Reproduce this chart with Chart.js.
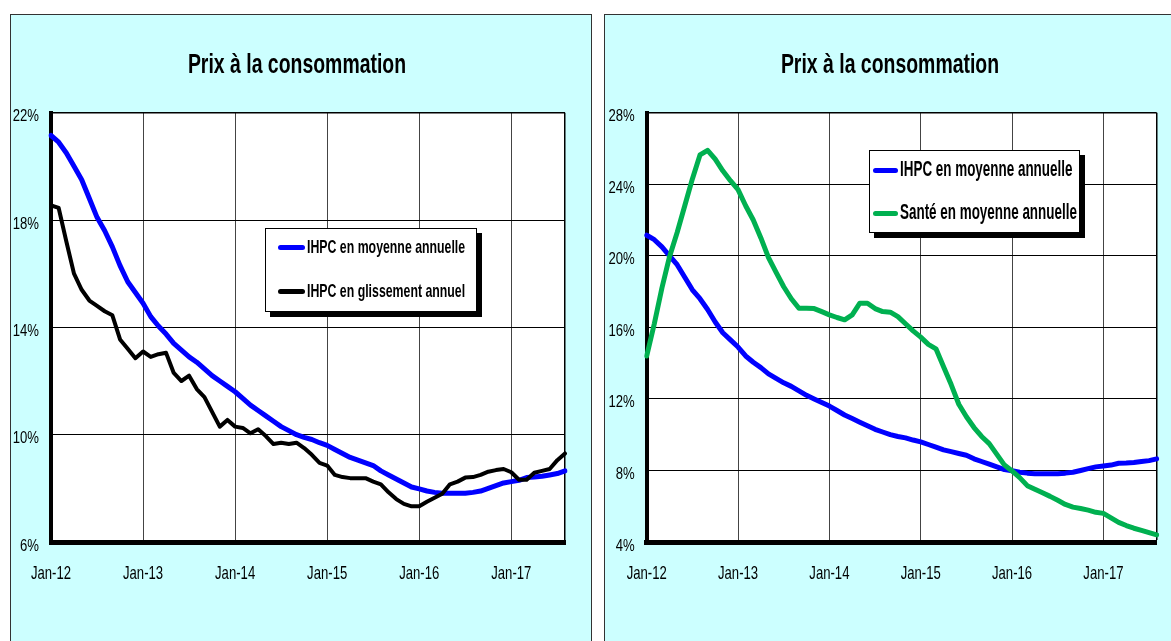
<!DOCTYPE html>
<html>
<head>
<meta charset="utf-8">
<script src="https://cdn.jsdelivr.net/npm/chart.js@4.4.1/dist/chart.umd.min.js"></script>
<style>
  html, body { margin: 0; padding: 0; }
  body { width: 1171px; height: 641px; overflow: hidden; background: #fff; position: relative;
         font-family: "Liberation Sans", Arial, sans-serif; }
  .panel { position: absolute; top: 14px; height: 640px; background: #CCFFFF; border: 1px solid #333; }
  #p1 { left: 10px; width: 580px; }
  #p2 { left: 604px; width: 580px; }
  canvas { position: absolute; left: 0; top: 0; }
  .title { position: absolute; top: 37px; width: 400px; text-align: center; font-weight: bold;
           font-size: 24px; line-height: 24px; color: #000; transform: scale(0.81, 1.16); white-space: nowrap; }
  .legend { position: absolute; box-sizing: border-box; background: #fff; border: 1px solid #000;
            box-shadow: 5px 5px 0 #000; }
  .item { position: absolute; left: 0; height: 20px; width: 100%; }
  .sw { position: absolute; height: 5px; border-radius: 3px; }
  .lt { position: absolute; top: 0; font-weight: bold; white-space: nowrap; color: #000; line-height: 20px;
        transform-origin: 0 50%; }
</style>
</head>
<body>
<div class="panel" id="p1">
  <canvas id="c1" width="580" height="626"></canvas>
  <div class="title" style="left:86px;">Prix à la consommation</div>
  <div class="legend" style="left:254px; top:213px; width:212px; height:84px;">
    <div class="item" style="top:8px;"><div class="sw" style="left:12px; width:27px; top:8px; background:#0000FF;"></div><div class="lt" style="left:41px; font-size:16px; transform:scale(0.77,1.16);">IHPC en moyenne annuelle</div></div>
    <div class="item" style="top:52px;"><div class="sw" style="left:12px; width:27px; top:8px; background:#000;"></div><div class="lt" style="left:41px; font-size:16px; transform:scale(0.77,1.16);">IHPC en glissement annuel</div></div>
  </div>
</div>
<div class="panel" id="p2">
  <canvas id="c2" width="566" height="626"></canvas>
  <div class="title" style="left:85px;">Prix à la consommation</div>
  <div class="legend" style="left:264px; top:135px; width:211px; height:83px;">
    <div class="item" style="top:9px;"><div class="sw" style="left:3px; width:25px; top:8px; background:#0000FF;"></div><div class="lt" style="left:30px; font-size:17px; transform:scale(0.79,1.25);">IHPC en moyenne annuelle</div></div>
    <div class="item" style="top:52px;"><div class="sw" style="left:3px; width:25px; top:8px; background:#00B050;"></div><div class="lt" style="left:30px; font-size:17px; transform:scale(0.79,1.25);">Santé en moyenne annuelle</div></div>
  </div>
</div>
<script>
// ---- Data ----
const months = [
  'Jan-12','Feb-12','Mar-12','Apr-12','May-12','Jun-12','Jul-12','Aug-12','Sep-12','Oct-12','Nov-12','Dec-12',
  'Jan-13','Feb-13','Mar-13','Apr-13','May-13','Jun-13','Jul-13','Aug-13','Sep-13','Oct-13','Nov-13','Dec-13',
  'Jan-14','Feb-14','Mar-14','Apr-14','May-14','Jun-14','Jul-14','Aug-14','Sep-14','Oct-14','Nov-14','Dec-14',
  'Jan-15','Feb-15','Mar-15','Apr-15','May-15','Jun-15','Jul-15','Aug-15','Sep-15','Oct-15','Nov-15','Dec-15',
  'Jan-16','Feb-16','Mar-16','Apr-16','May-16','Jun-16','Jul-16','Aug-16','Sep-16','Oct-16','Nov-16','Dec-16',
  'Jan-17','Feb-17','Mar-17','Apr-17','May-17','Jun-17','Jul-17','Aug-17'
];
const xTickLabels = ['Jan-12','Jan-13','Jan-14','Jan-15','Jan-16','Jan-17'];

const ihpcMoyenne = [
  21.15,20.9,20.5,20.0,19.5,18.8,18.1,17.6,17.0,16.3,
  15.7,15.3,14.9,14.4,14.05,13.75,13.4,13.15,12.9,12.7,
  12.45,12.2,12.0,11.8,11.6,11.35,11.1,10.9,10.7,10.5,
  10.3,10.15,10.0,9.9,9.82,9.7,9.6,9.45,9.3,9.15,
  9.05,8.95,8.85,8.65,8.5,8.35,8.2,8.05,7.98,7.9,
  7.85,7.82,7.82,7.82,7.82,7.85,7.9,8.0,8.1,8.2,
  8.25,8.3,8.4,8.42,8.45,8.5,8.55,8.65
];
const ihpcGlissement = [
  18.55,18.45,17.2,16.0,15.4,15.0,14.8,14.6,14.45,13.55,
  13.2,12.85,13.1,12.9,13.0,13.05,12.3,12.0,12.2,11.7,
  11.4,10.85,10.3,10.55,10.3,10.25,10.05,10.2,9.95,9.65,
  9.7,9.65,9.7,9.5,9.25,8.95,8.85,8.5,8.42,8.38,
  8.38,8.38,8.25,8.15,7.85,7.6,7.42,7.33,7.33,7.5,
  7.65,7.8,8.15,8.25,8.4,8.42,8.5,8.62,8.68,8.72,
  8.6,8.32,8.32,8.58,8.65,8.72,9.05,9.3
];
const santeMoyenne = [
  14.4,16.2,18.2,19.95,21.3,22.8,24.3,25.64,25.9,25.4,
  24.75,24.2,23.7,22.8,22.0,21.0,19.9,19.07,18.27,17.6,
  17.07,17.07,17.05,16.88,16.7,16.55,16.42,16.7,17.35,17.35,
  17.05,16.88,16.85,16.6,16.2,15.8,15.45,15.05,14.8,13.8,
  12.8,11.7,11.0,10.4,9.9,9.5,8.9,8.3,7.97,7.6,
  7.15,6.95,6.75,6.55,6.33,6.1,5.95,5.87,5.78,5.66,
  5.6,5.35,5.1,4.92,4.77,4.65,4.52,4.4
];
const yTicksLeft = [6, 10, 14, 18, 22];
const yTicksRight = [4, 8, 12, 16, 20, 24, 28];

// ---- Styling helpers ----
const TICK_FONT = '16px "Liberation Sans", Arial, sans-serif';
const plotBg = {
  id: 'plotBg',
  beforeDraw(chart) {
    const { ctx, chartArea: a } = chart;
    ctx.save();
    ctx.fillStyle = '#ffffff';
    ctx.fillRect(a.left, a.top, a.right - a.left, a.bottom - a.top);
    ctx.restore();
  }
};
// Condensed (Arial-Narrow-like) tick labels, placed with the chart's own scales
const narrowTicks = {
  id: 'narrowTicks',
  afterDraw(chart) {
    const { ctx, chartArea: a } = chart;
    const xs = chart.scales.x, ys = chart.scales.y;
    ctx.save();
    ctx.fillStyle = '#000';
    ctx.font = TICK_FONT;
    ctx.textBaseline = 'alphabetic';
    ctx.textAlign = 'center';
    xs.ticks.forEach((t, i) => {
      const lab = months[i];
      if (!xTickLabels.includes(lab)) return;
      const px = xs.getPixelForTick(i);
      ctx.save();
      ctx.translate(px, a.bottom + 37);
      ctx.scale(0.82, 1.2);
      ctx.fillText(lab, 0, 0);
      ctx.restore();
    });
    ctx.textAlign = 'right';
    ys.ticks.forEach(t => {
      const py = ys.getPixelForValue(t.value);
      ctx.save();
      ctx.translate(a.left - 12, py + 8.5);
      ctx.scale(0.82, 1.08);
      ctx.fillText(t.value + '%', 0, 0);
      ctx.restore();
    });
    ctx.restore();
  }
};

function makeChart(id, datasets, yTicks, pad, yWidth) {
  const lastIdx = months.length - 1;
  return new Chart(document.getElementById(id), {
    type: 'line',
    data: { labels: months, datasets },
    options: {
      responsive: false,
      animation: false,
      layout: { padding: pad },
      elements: { point: { radius: 0 }, line: { tension: 0, borderJoinStyle: 'round', borderCapStyle: 'round' } },
      plugins: { legend: { display: false }, tooltip: { enabled: false }, title: { display: false } },
      scales: {
        x: {
          type: 'category',
          offset: false,
          ticks: { display: false, autoSkip: false, maxRotation: 0, minRotation: 0 },
          grid: {
            drawTicks: false,
            color: c => (c.index === lastIdx ? '#000' : (xTickLabels.includes(months[c.index]) ? '#444' : 'rgba(0,0,0,0)')),
            lineWidth: c => (c.index === lastIdx ? 1.5 : 1)
          },
          border: { display: true, color: '#000', width: 5 },
          afterFit(s) { s.height = 40; }
        },
        y: {
          min: yTicks[0], max: yTicks[yTicks.length - 1],
          afterBuildTicks(s) { s.ticks = yTicks.map(v => ({ value: v })); },
          ticks: { display: false },
          grid: { drawTicks: false, color: '#000', lineWidth: c => (c.index === yTicks.length - 1 ? 1.5 : 1) },
          border: { display: true, color: '#000', width: 4 },
          afterFit(s) { s.width = yWidth; }
        }
      }
    },
    plugins: [plotBg, narrowTicks]
  });
}

makeChart('c1', [
  { label: 'IHPC en glissement annuel', data: ihpcGlissement, borderColor: '#000000', borderWidth: 4, order: 0 },
  { label: 'IHPC en moyenne annuelle', data: ihpcMoyenne, borderColor: '#0000FF', borderWidth: 5, order: 1 }
], yTicksLeft, { left: 0, right: 26, top: 97.7, bottom: 59 }, 40);

makeChart('c2', [
  { label: 'Santé en moyenne annuelle', data: santeMoyenne, borderColor: '#00B050', borderWidth: 5, order: 0 },
  { label: 'IHPC en moyenne annuelle', data: ihpcMoyenne, borderColor: '#0000FF', borderWidth: 5, order: 1 }
], yTicksRight, { left: 0, right: 14.3, top: 97.7, bottom: 59 }, 41.7);
</script>
</body>
</html>
